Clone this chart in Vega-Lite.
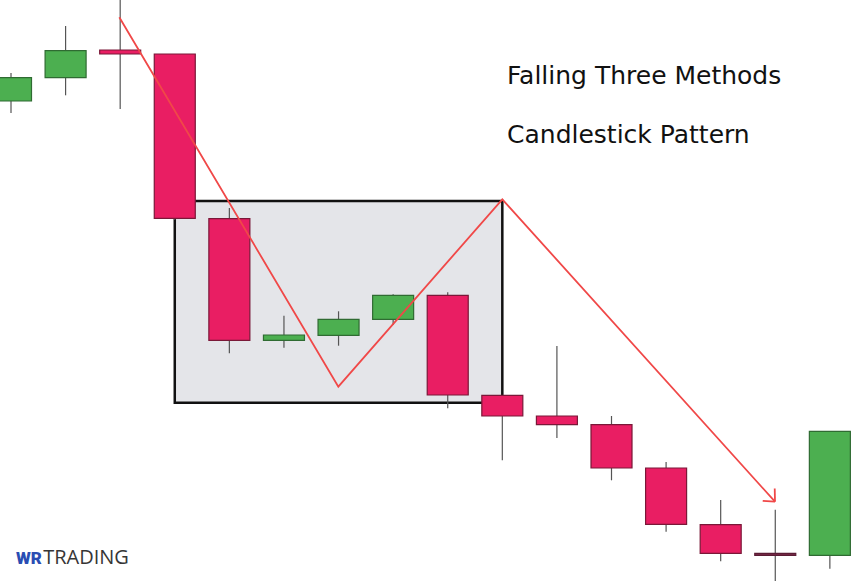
{
  "$schema": "https://vega.github.io/schema/vega-lite/v6.json",
  "width": 860,
  "height": 581,
  "padding": 0,
  "autosize": {"type": "none"},
  "background": "white",
  "config": {"view": {"stroke": null}, "axis": {"disable": true}},
  "datasets": {
    "candles": [
      {"i": 0, "o": 480, "h": 508, "l": 468, "c": 503.3, "dir": "up"},
      {"i": 1, "o": 503.3, "h": 555, "l": 485.7, "c": 530.3, "dir": "up"},
      {"i": 2, "o": 531, "h": 581, "l": 472, "c": 527, "dir": "down"},
      {"i": 3, "o": 527, "h": 527, "l": 361, "c": 362.7, "dir": "down"},
      {"i": 4, "o": 362.3, "h": 373, "l": 227.7, "c": 240.7, "dir": "down"},
      {"i": 5, "o": 240.7, "h": 265.3, "l": 233.3, "c": 246, "dir": "up"},
      {"i": 6, "o": 245.7, "h": 269.7, "l": 235.3, "c": 261.7, "dir": "up"},
      {"i": 7, "o": 261.7, "h": 286.7, "l": 256, "c": 285.7, "dir": "up"},
      {"i": 8, "o": 285.7, "h": 288.7, "l": 172.7, "c": 186, "dir": "down"},
      {"i": 9, "o": 185.7, "h": 185.7, "l": 120.7, "c": 165, "dir": "down"},
      {"i": 10, "o": 165, "h": 235, "l": 143, "c": 156.3, "dir": "down"},
      {"i": 11, "o": 156.3, "h": 165, "l": 100.7, "c": 113, "dir": "down"},
      {"i": 12, "o": 113, "h": 119, "l": 49.3, "c": 56.7, "dir": "down"},
      {"i": 13, "o": 56.3, "h": 81, "l": 19.7, "c": 27.7, "dir": "down"},
      {"i": 14, "o": 27.7, "h": 71.3, "l": 0, "c": 25.7, "dir": "doji"},
      {"i": 15, "o": 25.7, "h": 149.7, "l": 12.3, "c": 149.7, "dir": "up"}
    ],
    "box": [{"x1": 3, "x2": 9, "y1": 178.3, "y2": 380}],
    "path": [
      {"seg": "main", "k": 0, "x": 1.984, "y": 563.7},
      {"seg": "main", "k": 1, "x": 5.996, "y": 194.3},
      {"seg": "main", "k": 2, "x": 9.0, "y": 381.7},
      {"seg": "main", "k": 3, "x": 13.995, "y": 79.3},
      {"seg": "arm1", "k": 0, "x": 13.77, "y": 80.2},
      {"seg": "arm1", "k": 1, "x": 13.995, "y": 79.3},
      {"seg": "arm2", "k": 0, "x": 13.99, "y": 92.5},
      {"seg": "arm2", "k": 1, "x": 13.995, "y": 79.3}
    ]
  },
  "layer": [
    {
      "data": {"name": "box"},
      "mark": {"type": "rect", "fill": "#e4e5e9", "stroke": "#111111", "strokeWidth": 2.5},
      "encoding": {
        "x": {"field": "x1", "type": "quantitative", "scale": {"domain": [-0.2015, 15.552], "nice": false, "zero": false, "padding": 0}},
        "x2": {"field": "x2"},
        "y": {"field": "y1", "type": "quantitative", "scale": {"domain": [0, 581], "nice": false, "zero": false, "padding": 0}},
        "y2": {"field": "y2"}
      }
    },
    {
      "data": {"name": "candles"},
      "mark": {"type": "rule", "color": "#555555", "strokeWidth": 1.2},
      "encoding": {
        "x": {"field": "i", "type": "quantitative"},
        "y": {"field": "l", "type": "quantitative"},
        "y2": {"field": "h"}
      }
    },
    {
      "data": {"name": "candles"},
      "mark": {"type": "bar", "size": 41, "strokeWidth": 1.2, "fillOpacity": 1},
      "encoding": {
        "x": {"field": "i", "type": "quantitative"},
        "y": {"field": "o", "type": "quantitative"},
        "y2": {"field": "c"},
        "fill": {"field": "dir", "type": "nominal", "legend": null, "scale": {"domain": ["up", "down", "doji"], "range": ["#4caf50", "#e91e63", "#7a2a48"]}},
        "stroke": {"field": "dir", "type": "nominal", "legend": null, "scale": {"domain": ["up", "down", "doji"], "range": ["#2f6b32", "#7a1838", "#5a1c34"]}}
      }
    },
    {
      "data": {"name": "path"},
      "mark": {"type": "line", "color": "#f04848", "strokeWidth": 1.8},
      "encoding": {
        "x": {"field": "x", "type": "quantitative"},
        "y": {"field": "y", "type": "quantitative"},
        "detail": {"field": "seg"},
        "order": {"field": "k"}
      }
    },
    {
      "data": {"values": [{}]},
      "mark": {"type": "text", "text": "Falling Three Methods", "align": "left", "baseline": "alphabetic", "font": "DejaVu Sans", "fontSize": 25, "color": "#111111"},
      "encoding": {"x": {"datum": 9.086, "type": "quantitative"}, "y": {"datum": 496.7, "type": "quantitative"}}
    },
    {
      "data": {"values": [{}]},
      "mark": {"type": "text", "text": "Candlestick Pattern", "align": "left", "baseline": "alphabetic", "font": "DejaVu Sans", "fontSize": 25, "color": "#111111"},
      "encoding": {"x": {"datum": 9.086, "type": "quantitative"}, "y": {"datum": 438.3, "type": "quantitative"}}
    },
    {
      "data": {"values": [{}]},
      "mark": {"type": "text", "text": "WR", "align": "left", "baseline": "alphabetic", "font": "Roboto", "fontWeight": 900, "fontSize": 17, "color": "#2a4db3"},
      "encoding": {"x": {"datum": 0.092, "type": "quantitative"}, "y": {"datum": 16.7, "type": "quantitative"}}
    },
    {
      "data": {"values": [{}]},
      "mark": {"type": "text", "text": "TRADING", "align": "left", "baseline": "alphabetic", "font": "Open Sans", "fontSize": 20, "color": "#363636"},
      "encoding": {"x": {"datum": 0.59, "type": "quantitative"}, "y": {"datum": 16.7, "type": "quantitative"}}
    }
  ]
}
